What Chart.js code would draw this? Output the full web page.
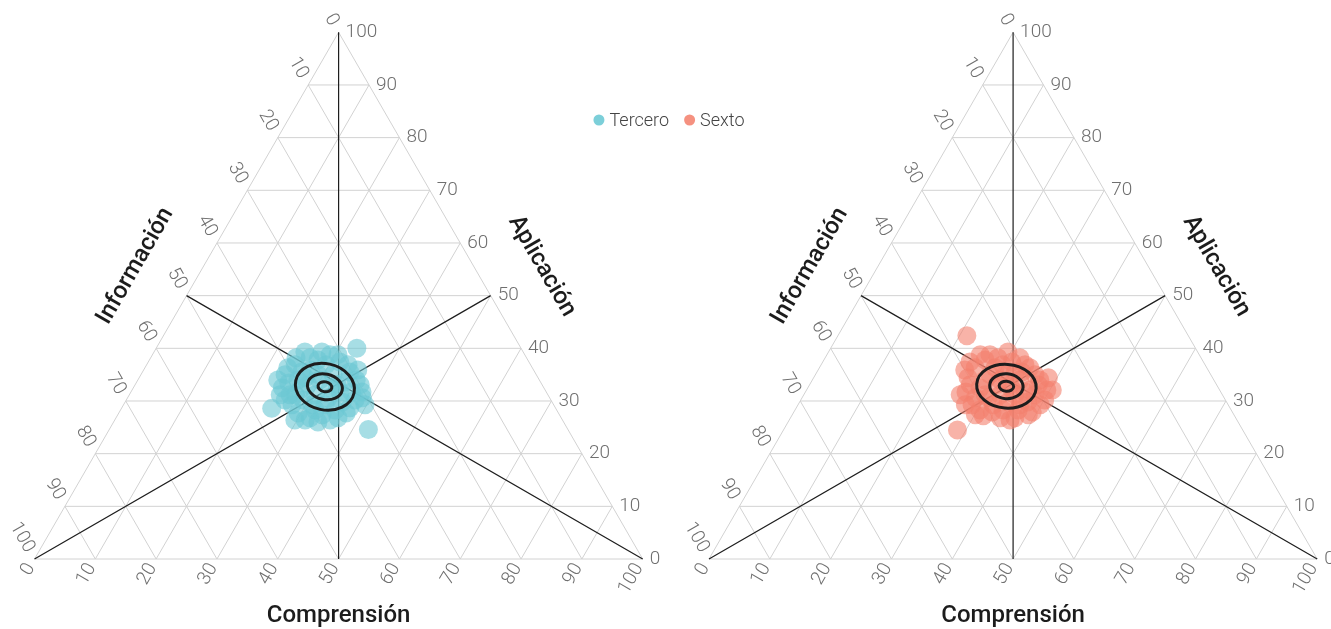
<!DOCTYPE html>
<html>
<head>
<meta charset="utf-8">
<script src="https://cdn.jsdelivr.net/npm/chart.js@4.4.1/dist/chart.umd.min.js"></script>
<style>
  html, body { margin: 0; padding: 0; background: #ffffff; }
  #wrap { width: 1331px; height: 629px; position: relative; }
</style>
</head>
<body>
<div id="wrap"><canvas id="tern" width="1331" height="629"></canvas></div>
<script>
// ---- axis setup ----
const tickValues = [0, 10, 20, 30, 40, 50, 60, 70, 80, 90, 100];
const tickLabels = ['0', '10', '20', '30', '40', '50', '60', '70', '80', '90', '100'];
const axisTitles = { bottom: 'Comprensión', right: 'Aplicación', left: 'Información' };
const groupNames = ['Tercero', 'Sexto'];

// ---- Tercero (3rd grade) compositions, percent ----
const terceroComprension = [33.0, 42.6, 24.7, 24.8, 29.2, 27.7, 24.4, 23.7, 24.5, 26.4, 26.3, 27.4, 31.5, 34.1, 35.9, 38.0,
  39.7, 37.6, 37.4, 35.3, 33.6, 31.9, 29.5, 27.7, 29.1, 30.6, 33.0, 34.4, 34.2, 31.6, 29.9, 28.4,
  27.6, 31.0, 33.1, 33.2, 36.3, 25.1, 26.2, 29.5, 32.0, 31.3, 35.4, 35.7, 23.9, 23.0, 37.0, 33.1,
  23.5, 26.2, 30.5, 26.1, 33.6, 29.6, 37.5, 35.2, 32.4, 29.1, 27.3, 27.3, 36.5, 38.6, 24.8, 27.6];
const terceroAplicacion = [40.0, 24.6, 28.6, 39.3, 38.8, 37.8, 36.9, 35.0, 32.5, 31.2, 34.0, 35.9, 37.4, 35.5, 34.0, 31.7,
  29.3, 30.2, 27.7, 28.3, 27.4, 26.8, 27.7, 29.3, 30.2, 31.2, 30.6, 31.7, 33.6, 35.0, 34.0, 33.1,
  32.1, 29.3, 29.3, 33.1, 31.7, 33.4, 35.5, 36.9, 28.3, 26.4, 26.4, 29.8, 38.2, 34.0, 33.1, 36.9,
  36.3, 38.2, 38.8, 30.2, 26.0, 26.4, 28.7, 35.9, 32.5, 35.0, 34.4, 31.2, 26.8, 30.6, 31.2, 39.3];
const terceroInformacion = [27.0, 32.8, 46.7, 35.9, 32.0, 34.5, 38.7, 41.3, 43.0, 42.4, 39.7, 36.7, 31.1, 30.4, 30.1, 30.3,
  31.0, 32.2, 34.9, 36.4, 39.0, 41.3, 42.8, 43.0, 40.7, 38.2, 36.4, 33.9, 32.2, 33.4, 36.1, 38.5,
  40.3, 39.7, 37.6, 33.7, 32.0, 41.5, 38.3, 33.6, 39.7, 42.3, 38.2, 34.5, 37.9, 43.0, 29.9, 30.0,
  40.2, 35.6, 30.7, 43.7, 40.4, 44.0, 33.8, 28.9, 35.1, 35.9, 38.3, 41.5, 36.7, 30.8, 44.0, 33.1];

// ---- Sexto (6th grade) compositions, percent ----
const sextoComprension = [21.2, 28.6, 36.3, 39.5, 39.8, 36.1, 33.5, 31.1, 28.4, 26.5, 25.6, 25.4, 26.4, 28.6, 30.4, 32.6,
  34.2, 36.7, 37.5, 36.7, 34.1, 31.2, 28.7, 28.3, 30.6, 32.3, 34.7, 33.7, 28.9, 28.5, 37.6, 40.4,
  39.2, 28.4, 33.0, 30.8, 34.3, 32.1, 36.1, 26.4, 40.1, 25.7, 29.8, 34.6, 25.2, 32.6, 31.5, 36.5,
  26.8, 32.0, 37.4, 27.5, 30.1, 34.5, 36.9, 38.8, 24.1, 30.9, 33.8, 29.8, 38.0, 24.2, 29.5, 38.6];
const sextoAplicacion = [42.4, 24.5, 26.4, 32.1, 29.3, 35.0, 36.9, 37.4, 38.2, 37.8, 36.3, 34.4, 31.7, 29.3, 28.3, 27.9,
  28.3, 28.3, 29.8, 32.1, 34.0, 35.0, 35.0, 32.5, 30.6, 31.2, 31.2, 35.5, 36.3, 30.6, 33.1, 32.1,
  27.9, 34.0, 33.1, 33.1, 29.8, 29.3, 31.7, 33.1, 30.2, 31.2, 36.9, 36.3, 38.8, 35.5, 27.2, 29.3,
  38.8, 38.2, 34.0, 29.3, 27.4, 26.8, 26.8, 27.4, 35.9, 34.0, 32.1, 31.2, 31.2, 37.4, 39.3, 34.4];
const sextoInformacion = [36.4, 46.9, 37.3, 28.4, 30.9, 28.9, 29.6, 31.5, 33.4, 35.7, 38.1, 40.2, 41.9, 42.1, 41.3, 39.5,
  37.5, 35.0, 32.7, 31.2, 31.9, 33.8, 36.3, 39.2, 38.8, 36.5, 34.1, 30.8, 34.8, 40.9, 29.3, 27.5,
  32.9, 37.6, 33.9, 36.1, 35.9, 38.6, 32.2, 40.5, 29.7, 43.1, 33.3, 29.1, 36.0, 31.9, 41.3, 34.2,
  34.4, 29.8, 28.6, 43.2, 42.5, 38.7, 36.3, 33.8, 40.0, 35.1, 34.1, 39.0, 30.8, 38.4, 31.2, 27.0];

// ---- density contour levels (ellipse fits): centre composition, semi-axes, tilt ----
const terceroContourComprension = 31.4;
const terceroContourAplicacion = 32.7;
const terceroContourRx = [1.15, 2.9, 4.9];
const terceroContourRy = [0.82, 2.1, 3.8];
const terceroContourTilt = 12;
const sextoContourComprension = 32.5;
const sextoContourAplicacion = 32.8;
const sextoContourRx = [1.2, 2.75, 4.9];
const sextoContourRy = [0.82, 2.05, 3.6];
const sextoContourTilt = 4;

// ---- geometry ----
const H = Math.sqrt(3) / 2;
const PANEL_SHIFT = 110.9;          // horizontal shift of the second triangle, in axis units
const panels = [0, PANEL_SHIFT];

// ternary composition -> cartesian coordinates inside a unit-100 triangle
function toXY(c, a, i, shift) {
  const s = c + a + i;
  const cn = 100 * c / s, an = 100 * a / s;
  return { x: cn + an / 2 + shift, y: an * H };
}
function buildPoints(comp, apl, inf, shift) {
  return comp.map((c, k) => toXY(c, apl[k], inf[k], shift));
}

const colors = {
  Tercero: { fill: 'rgba(108, 200, 212, 0.6)', solid: 'rgb(124, 207, 217)' },
  Sexto:   { fill: 'rgba(243, 128, 110, 0.6)', solid: 'rgb(245, 145, 128)' }
};

const FONT = 'Roboto, "Noto Sans", sans-serif';

const ternaryFrame = {
  id: 'ternaryFrame',
  beforeDatasetsDraw(chart) {
    const { ctx, scales: { x, y } } = chart;
    const P = (px, py) => [x.getPixelForValue(px), y.getPixelForValue(py)];
    const seg = (a, b) => { ctx.moveTo(a[0], a[1]); ctx.lineTo(b[0], b[1]); };
    ctx.save();
    panels.forEach(sh => {
      // light grid in all three directions
      ctx.beginPath();
      ctx.strokeStyle = '#d2d2d2';
      ctx.lineWidth = 1;
      tickValues.forEach(t => {
        seg(P(sh + t / 2, t * H), P(sh + 100 - t / 2, t * H));                 // constant Aplicación
        seg(P(sh + t, 0), P(sh + t + (100 - t) / 2, (100 - t) * H));           // constant Comprensión
        seg(P(sh + 100 - t, 0), P(sh + (100 - t) / 2, (100 - t) * H));         // constant Información
      });
      ctx.stroke();
      // medians through the centre
      ctx.beginPath();
      ctx.strokeStyle = '#1e1e1e';
      ctx.lineWidth = 1.2;
      seg(P(sh + 50, 100 * H), P(sh + 50, 0));
      seg(P(sh + 0, 0), P(sh + 75, 50 * H));
      seg(P(sh + 100, 0), P(sh + 25, 50 * H));
      ctx.stroke();

      // tick labels
      ctx.fillStyle = '#6f6f6f';
      ctx.font = '300 19px ' + FONT;
      ctx.textBaseline = 'middle';
      tickValues.forEach((t, k) => {
        const lab = tickLabels[k];
        // bottom: Comprensión
        let p = P(sh + t, 0);
        ctx.save();
        ctx.translate(p[0] - 0.5 * 7, p[1] + H * 7);
        ctx.rotate(-Math.PI / 3);
        ctx.textAlign = 'right';
        ctx.fillText(lab, 0, 0);
        ctx.restore();
        // left: Información
        p = P(sh + (100 - t) / 2, (100 - t) * H);
        ctx.save();
        ctx.translate(p[0] - 0.5 * 9, p[1] - H * 9);
        ctx.rotate(Math.PI / 3);
        ctx.textAlign = 'right';
        ctx.fillText(lab, 0, 0);
        ctx.restore();
        // right: Aplicación
        p = P(sh + 100 - t / 2, t * H);
        ctx.textAlign = 'left';
        ctx.fillText(lab, p[0] + 7, p[1]);
      });

      // axis titles
      ctx.fillStyle = '#1c1c1c';
      ctx.font = '500 24px ' + FONT;
      ctx.textAlign = 'center';
      let m = P(sh + 50, 0);
      ctx.fillText(axisTitles.bottom, m[0], m[1] + 57);
      m = P(sh + 25, 50 * H);
      ctx.save();
      ctx.translate(m[0] - H * 59, m[1] - 0.5 * 59);
      ctx.rotate(-Math.PI / 3);
      ctx.fillText(axisTitles.left, 0, 0);
      ctx.restore();
      m = P(sh + 75, 50 * H);
      ctx.save();
      ctx.translate(m[0] + H * 59, m[1] - 0.5 * 59);
      ctx.rotate(Math.PI / 3);
      ctx.fillText(axisTitles.right, 0, 0);
      ctx.restore();
    });
    ctx.restore();
  },
  afterDatasetsDraw(chart) {
    const { ctx, scales: { x, y } } = chart;
    const sets = [
      [terceroContourComprension, terceroContourAplicacion, terceroContourRx, terceroContourRy, terceroContourTilt, panels[0]],
      [sextoContourComprension, sextoContourAplicacion, sextoContourRx, sextoContourRy, sextoContourTilt, panels[1]]
    ];
    ctx.save();
    ctx.strokeStyle = '#1d1d1d';
    ctx.lineWidth = 3;
    sets.forEach(([c, a, rxs, rys, tilt, sh]) => {
      const ctr = toXY(c, a, 100 - c - a, sh);
      const cx = x.getPixelForValue(ctr.x), cy = y.getPixelForValue(ctr.y);
      const ux = Math.abs(x.getPixelForValue(1) - x.getPixelForValue(0));
      const uy = Math.abs(y.getPixelForValue(1) - y.getPixelForValue(0));
      rxs.forEach((rx, k) => {
        ctx.beginPath();
        ctx.ellipse(cx, cy, rx * ux, rys[k] * uy, tilt * Math.PI / 180, 0, Math.PI * 2);
        ctx.stroke();
      });
    });
    ctx.restore();
  },
  afterDraw(chart) {
    // legend between the two triangles
    const { ctx } = chart;
    ctx.save();
    ctx.font = '300 18px ' + FONT;
    ctx.textBaseline = 'middle';
    ctx.textAlign = 'left';
    const r = 5.5, gap = 5, spacing = 15;
    const widths = groupNames.map(n => ctx.measureText(n).width);
    const total = widths.reduce((s, w) => s + 2 * r + gap + w, 0) + spacing * (groupNames.length - 1);
    let cx = 669 - total / 2;
    const cy = 120;
    groupNames.forEach((n, k) => {
      ctx.fillStyle = colors[n].solid;
      ctx.beginPath();
      ctx.arc(cx + r, cy, r, 0, Math.PI * 2);
      ctx.fill();
      ctx.fillStyle = '#444444';
      ctx.fillText(n, cx + 2 * r + gap, cy + 1);
      cx += 2 * r + gap + widths[k] + spacing;
    });
    ctx.restore();
  }
};

const PX_PER_UNIT = 6.082;
const X0_PX = 34.5, Y0_PX = 559;
const W = 1331, HGT = 629;

new Chart(document.getElementById('tern'), {
  type: 'scatter',
  data: {
    datasets: [
      {
        label: groupNames[0],
        data: buildPoints(terceroComprension, terceroAplicacion, terceroInformacion, panels[0]),
        backgroundColor: colors.Tercero.fill,
        borderWidth: 0,
        pointRadius: 9.5,
        pointHoverRadius: 9.5
      },
      {
        label: groupNames[1],
        data: buildPoints(sextoComprension, sextoAplicacion, sextoInformacion, panels[1]),
        backgroundColor: colors.Sexto.fill,
        borderWidth: 0,
        pointRadius: 9.5,
        pointHoverRadius: 9.5
      }
    ]
  },
  options: {
    responsive: false,
    animation: false,
    layout: { padding: 0, autoPadding: false },
    plugins: { legend: { display: false }, tooltip: { enabled: false } },
    events: [],
    scales: {
      x: { type: 'linear', display: false, min: -X0_PX / PX_PER_UNIT, max: (W - X0_PX) / PX_PER_UNIT },
      y: { type: 'linear', display: false, min: -(HGT - Y0_PX) / PX_PER_UNIT, max: Y0_PX / PX_PER_UNIT }
    }
  },
  plugins: [ternaryFrame]
});
</script>
</body>
</html>
